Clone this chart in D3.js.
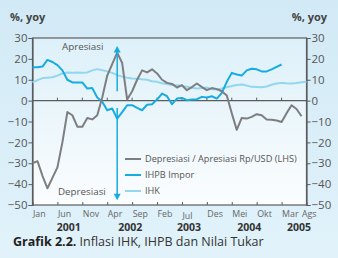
<!DOCTYPE html>
<html>
<head>
<meta charset="utf-8">
<script src="https://cdn.jsdelivr.net/npm/d3@7"></script>
<style>
  body { margin: 0; padding: 0; }
  svg { display: block; font-family: "Open Sans", sans-serif; }
</style>
</head>
<body>
<svg id="chart" width="338" height="258"></svg>
<script>
// month labels every 5 months, Jan 2001 .. Ags 2005
var monthLabels = ["Jan", "Jun", "Nov", "Apr", "Sep", "Feb", "Jul", "Des", "Mei", "Okt", "Mar", "Ags"];
var years = ["2001", "2002", "2003", "2004", "2005"];
var yearAnchor = [7.3, 19.6, 31.4, 43.5, 53.5]; // month index under which the year is written
var yTicks = [30, 20, 10, 0, -10, -20, -30, -40, -50];

// Depresiasi / Apresiasi Rp/USD (LHS), monthly from Jan 2001
var kurs = [-30, -29, -36, -42, -37, -32, -20, -5.5, -7, -12.5, -12.5, -8.3, -9, -7, 1.5,
    12, 17.5, 23, 18, 0.5, 4.5, 10, 14.5, 13.5, 15, 13, 10, 8.5, 8, 6.3, 7.4, 5, 6.5,
    8.2, 6.5, 5, 6, 5.5, 4.5, 2.5, -6, -14, -8.3, -8.6, -7.8, -6.5, -7, -9, -9.2, -9.5,
    -10.2, -6, -2.2, -4, -7.5];
// IHPB Impor
var ihpb = [16, 16, 16.3, 19.5, 18.5, 17, 14.5, 10, 8.7, 8.7, 8.7, 5.8, 6, 1.5, -0.5,
    -4.6, -3.8, -8.6, -5.5, -2.2, -2.2, -3.5, -4.6, -2, -1.7, 0.5, 3.4, 2.1, -1.7, 1,
    1.3, 0.2, 0.5, 0.7, 1.8, 1.5, 2.1, 1, 3.7, 9, 13.3, 12.5, 12, 14.5, 15.3, 15, 14,
    14, 15, 16.2, 17.3];
// IHK
var ihk = [8.7, 9.8, 10.8, 11, 11.2, 12, 13, 13.5, 13.3, 13.5, 13.3, 13.5, 14.5, 15.1,
    14.6, 14, 13.3, 12.2, 11.5, 11, 10.6, 10.5, 10.2, 10, 9.3, 9, 8.3, 7.9, 7.5, 7.4, 7,
    6.6, 6.2, 5.8, 6, 6.3, 5.5, 5.3, 5.8, 6.4, 7, 7.5, 7.7, 7.2, 6.6, 6.5, 6.4, 6.8, 7.6,
    8.2, 8.5, 8.3, 8.2, 8.4, 8.8, 9];

var seriesNames = ["Depresiasi / Apresiasi Rp/USD (LHS)", "IHPB Impor", "IHK"];
var seriesColors = ["#7d7e80", "#16ace2", "#92d7ef"];

var W = 338, H = 258;
var pLeft = 32.5, pRight = 306.5, pTop = 38, pBottom = 205;

var svg = d3.select("#chart");

var xScale = d3.scaleLinear().domain([0, 55]).range([pLeft, pRight]);
var yScale = d3.scaleLinear().domain([-50, 30]).range([pBottom, pTop]);

// backgrounds
var defs = svg.append("defs");
var g1 = defs.append("linearGradient").attr("id", "bg").attr("x1", 0).attr("y1", 0).attr("x2", 0).attr("y2", 1);
g1.append("stop").attr("offset", "0%").attr("stop-color", "#d2eaf6");
g1.append("stop").attr("offset", "100%").attr("stop-color", "#e1f2fa");
var g2 = defs.append("linearGradient").attr("id", "plotbg").attr("x1", 0).attr("y1", 0).attr("x2", 0).attr("y2", 1);
g2.append("stop").attr("offset", "0%").attr("stop-color", "#ddf0f9");
g2.append("stop").attr("offset", "100%").attr("stop-color", "#fbfdfe");

svg.append("rect").attr("width", W).attr("height", H).attr("fill", "url(#bg)");
svg.append("rect")
    .attr("x", pLeft).attr("y", pTop)
    .attr("width", pRight - pLeft).attr("height", pBottom - pTop)
    .attr("fill", "url(#plotbg)")
    .attr("stroke", "#5a5c5e")
    .attr("stroke-width", 1.2);

//Create Y axes
var yAxisL = d3.axisLeft(yScale).tickValues(yTicks).tickSize(4).tickPadding(1);
var yAxisR = d3.axisRight(yScale).tickValues(yTicks).tickSize(4).tickPadding(1);

svg.append("g")
    .attr("class", "y axis")
    .attr("transform", "translate(" + pLeft + ",0)")
    .call(yAxisL);
svg.append("g")
    .attr("class", "y axis")
    .attr("transform", "translate(" + pRight + ",0)")
    .call(yAxisR);

svg.selectAll(".y.axis .domain").attr("stroke", "#5a5c5e").attr("stroke-width", 1.2);
svg.selectAll(".y.axis line").attr("stroke", "#5a5c5e");
svg.selectAll(".y.axis text")
    .attr("font-size", "11.5px")
    .attr("font-family", "Open Sans, sans-serif")
    .attr("fill", "#555");

//X axis (at bottom, ticks pointing into the plot)
var monthIdx = monthLabels.map(function(d, i) { return i * 5; });
var xAxis = d3.axisBottom(xScale).tickValues(monthIdx).tickSize(-3).tickFormat("");
svg.append("g")
    .attr("class", "x axis")
    .attr("transform", "translate(0," + pBottom + ")")
    .call(xAxis);
svg.selectAll(".x.axis .domain").remove();
svg.selectAll(".x.axis line").attr("stroke", "#5a5c5e");

svg.selectAll(".mlabel")
    .data(monthLabels)
    .enter()
    .append("text")
    .attr("class", "mlabel")
    .attr("x", function(d, i) { return xScale(i * 5) + (i == monthLabels.length - 1 ? -4.5 : 0.5); })
    .attr("y", function(d) { return d == "Jul" ? 219 : 216.5; })
    .attr("font-size", "8.8px")
    .attr("fill", "#666")
    .text(function(d) { return d; });

svg.selectAll(".ylabel")
    .data(years)
    .enter()
    .append("text")
    .attr("class", "ylabel")
    .attr("x", function(d, i) { return xScale(yearAnchor[i]); })
    .attr("y", 231)
    .attr("text-anchor", "middle")
    .attr("font-size", "10.5px")
    .attr("font-weight", "bold")
    .attr("fill", "#333")
    .text(function(d) { return d; });

// zero line with small ticks
svg.append("line")
    .attr("x1", pLeft).attr("x2", pRight)
    .attr("y1", yScale(0)).attr("y2", yScale(0))
    .attr("stroke", "#5a5c5e")
    .attr("stroke-width", 1.2);
svg.selectAll(".zt")
    .data(monthIdx)
    .enter()
    .append("line")
    .attr("class", "zt")
    .attr("x1", function(d) { return xScale(d); })
    .attr("x2", function(d) { return xScale(d); })
    .attr("y1", yScale(0))
    .attr("y2", yScale(0) - 3)
    .attr("stroke", "#5a5c5e");

// lines
var line = d3.line()
    .x(function(d, i) { return xScale(i); })
    .y(function(d) { return yScale(d); });

[ihk, ihpb, kurs].forEach(function(s, k) {
    var c = [seriesColors[2], seriesColors[1], seriesColors[0]][k];
    svg.append("path")
        .datum(s)
        .attr("d", line)
        .attr("fill", "none")
        .attr("stroke", c)
        .attr("stroke-width", 2)
        .attr("stroke-linejoin", "round");
});

// arrows
var arrowX = xScale(17);
var arrows = [{from: 4.5, to: 25.5}, {from: -3.5, to: -47}];
svg.selectAll(".arr")
    .data(arrows)
    .enter()
    .append("line")
    .attr("class", "arr")
    .attr("x1", arrowX).attr("x2", arrowX)
    .attr("y1", function(d) { return yScale(d.from); })
    .attr("y2", function(d) { return yScale(d.to); })
    .attr("stroke", "#16ace2")
    .attr("stroke-width", 1.5);
svg.selectAll(".head")
    .data(arrows)
    .enter()
    .append("path")
    .attr("class", "head")
    .attr("d", function(d) {
        var ty = yScale(d.to), s = d.to > d.from ? 1 : -1;
        return "M" + arrowX + "," + (ty - s * 1.5) + "L" + (arrowX - 3.5) + "," + (ty + s * 5) +
            "L" + (arrowX + 3.5) + "," + (ty + s * 5) + "Z";
    })
    .attr("fill", "#16ace2");

svg.append("text")
    .attr("x", 62).attr("y", 50)
    .attr("font-size", "9.8px")
    .attr("fill", "#555")
    .text("Apresiasi");
svg.append("text")
    .attr("x", 58).attr("y", 195)
    .attr("font-size", "9.8px")
    .attr("fill", "#555")
    .text("Depresiasi");

// legend
var legend = svg.selectAll(".legend")
    .data(seriesNames)
    .enter()
    .append("g")
    .attr("class", "legend")
    .attr("transform", function(d, i) { return "translate(125," + (159 + i * 16) + ")"; });
legend.append("line")
    .attr("x1", 0).attr("x2", 16)
    .attr("stroke", function(d, i) { return seriesColors[i]; })
    .attr("stroke-width", 2);
legend.append("text")
    .attr("x", 20).attr("y", 3.2)
    .attr("font-size", "9.2px")
    .attr("fill", "#555")
    .text(function(d) { return d; });

// unit titles
svg.append("text")
    .attr("x", 10).attr("y", 21)
    .attr("font-size", "11px")
    .attr("font-weight", "bold")
    .attr("fill", "#444")
    .text("%, yoy");
svg.append("text")
    .attr("x", 327).attr("y", 21)
    .attr("text-anchor", "end")
    .attr("font-size", "11px")
    .attr("font-weight", "bold")
    .attr("fill", "#444")
    .text("%, yoy");

// caption
var cap = svg.append("text")
    .attr("x", 13).attr("y", 246)
    .attr("font-size", "12.5px")
    .attr("fill", "#333");
cap.append("tspan").attr("font-weight", "bold").attr("fill", "#222").text("Grafik 2.2.");
cap.append("tspan").text(" Inflasi IHK, IHPB dan Nilai Tukar");
</script>
</body>
</html>
